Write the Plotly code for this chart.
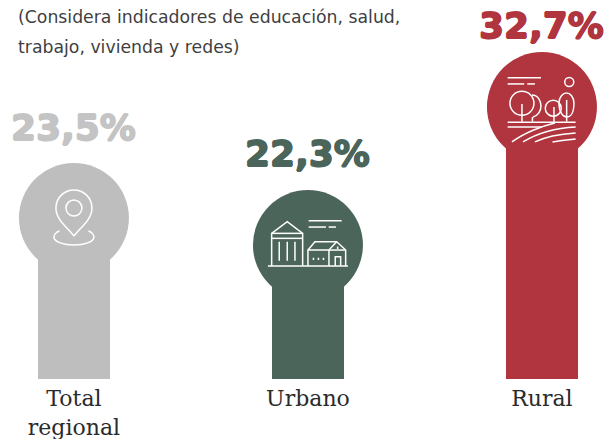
import plotly.graph_objects as go

categories = ["Total<br>regional", "Urbano", "Rural"]
values = [23.5, 22.3, 32.7]
value_labels = ["23,5%", "22,3%", "32,7%"]
# column height as drawn in the picture (to the centre of the head), percent units
drawn_levels = [19.35, 16.1, 32.7]
colors = ["#BEBEBE", "#4C655A", "#B0353E"]
note_lines = ["(Considera indicadores de educación, salud,", "trabajo, vivienda y redes)"]

PX = 8.32  # pixels per unit
label_gaps = [91, 92, 81]


def circ(cx, cy, r, ry=None):
    ry = r if ry is None else ry
    k = 0.5523
    return (f"M{cx-r},{-cy} C{cx-r},{-(cy-k*ry)} {cx-k*r},{-(cy-ry)} {cx},{-(cy-ry)} "
            f"C{cx+k*r},{-(cy-ry)} {cx+r},{-(cy-k*ry)} {cx+r},{-cy} "
            f"C{cx+r},{-(cy+k*ry)} {cx+k*r},{-(cy+ry)} {cx},{-(cy+ry)} "
            f"C{cx-k*r},{-(cy+ry)} {cx-r},{-(cy+k*ry)} {cx-r},{-cy} Z")


def ln(*pts):
    return "M" + " L".join(f"{x},{-y}" for x, y in pts)


def cv(p0, c1, c2, p1):
    return f"M{p0[0]},{-p0[1]} C{c1[0]},{-c1[1]} {c2[0]},{-c2[1]} {p1[0]},{-p1[1]}"


pin = [
    cv((0, 18), (-6, 10), (-18, 2), (-18, -10)),
    cv((-18, -10), (-18, -21), (-9, -28), (0, -28)),
    cv((0, -28), (9, -28), (18, -21), (18, -10)),
    cv((18, -10), (18, 2), (6, 10), (0, 18)),
    circ(0, -10, 8),
    cv((-14.5, 13), (-18, 14), (-20, 17), (-20, 19)),
    cv((-20, 19), (-20, 24), (-10, 27), (0, 27)),
    cv((0, 27), (10, 27), (20, 24), (20, 19)),
    cv((20, 19), (20, 17), (18, 14), (14.5, 13)),
]
city = [
    ln((-40, 21), (40, 21)),
    ln((-36.3, 21), (-36.3, -11.7), (-20.7, -23.3), (-5.3, -11.7), (-5.3, 21)),
    ln((-36.3, -11.7), (-5.3, -11.7)),
    ln((-36.3, -6.7), (-5.3, -6.7)),
    ln((-28.7, -3.3), (-28.7, 15.7)), ln((-20.7, -3.3), (-20.7, 15.7)), ln((-13, -3.3), (-13, 15.7)),
    ln((0, 21), (0, 5), (7, -3.3), (28.7, -3.3), (37.7, 5), (37.7, 21)),
    ln((0, 5), (21, 5), (28.7, -3.3)),
    ln((21, 5), (37.7, 5)),
    ln((27.3, 21), (27.3, 11.7), (32.7, 11.7), (32.7, 21)),
    ln((21, 5), (21, 21)),
    ln((5.5, 12.7), (5.5, 15)), ln((10.5, 12.7), (10.5, 15)), ln((15.5, 12.7), (15.5, 15)),
    ln((29.7, 4), (29.7, 1.5)),
    ln((0.7, -24.3), (33.7, -24.3)),
    ln((0.7, -18), (18, -18)), ln((20.7, -18), (28, -18)),
]
farm = [
    ln((-34.3, -29.3), (-1, -29.3)),
    ln((-34.3, -23), (-17.7, -23)), ln((-14.7, -23), (-7, -23)),
    circ(27.3, -25, 4.5),
    circ(-20, -3.7, 12),
    ln((-20, -3), (-20, 14.7)),
    cv((-10, -12), (-4, -12), (-1, -6), (-1, -1)),
    cv((-1, -1), (-1, 4), (-4, 9), (-9, 10)),
    ln((-9.5, 10), (-9.5, 14.7)),
    circ(11.3, 1.3, 8),
    ln((12, 0), (12, 14.7)),
    cv((17, -4), (17, -10), (21, -14), (24.7, -14)),
    cv((24.7, -14), (28, -14), (32, -10), (32, -4)),
    cv((32, -4), (32, 5), (29, 10), (24.7, 10)),
    cv((24.7, 10), (21, 10), (17, 5), (17, -4)),
    ln((24.7, -7), (24.7, 14.7)),
    ln((-34.3, 15.3), (33.7, 15.3)),
    ln((-34.3, 20), (0, 20)),
    cv((-30, 35), (-18, 26), (0, 19), (13, 16)),
    cv((-19, 35), (-6, 27), (12, 21), (33.7, 20)),
    cv((-7, 35), (3, 30), (18, 27), (33.7, 26)),
    cv((10.5, 35), (16, 34), (25, 33), (33.7, 32)),
]
icons = [pin, city, farm]

fig = go.Figure()
fig.add_trace(go.Bar(x=categories, y=drawn_levels, width=0.3077,
                     marker=dict(color=colors, line_width=0), hoverinfo="skip"))
fig.add_trace(go.Scatter(x=categories, y=drawn_levels, mode="markers",
                         marker=dict(size=110, color=colors, line_width=0),
                         customdata=values, hoverinfo="skip"))

shapes = []
for cat, lvl, parts in zip(categories, drawn_levels, icons):
    for p in parts:
        shapes.append(dict(type="path", path=p, xref="x", yref="y",
                           xsizemode="pixel", ysizemode="pixel",
                           xanchor=categories.index(cat), yanchor=lvl,
                           line=dict(color="white", width=1.5), fillcolor="rgba(0,0,0,0)"))

annotations = []
for cat, lvl, txt, c, gap in zip(categories, drawn_levels, value_labels, colors, label_gaps):
    col = "#C4C4C4" if c == "#BEBEBE" else c
    annotations.append(dict(x=cat, y=lvl, text=txt, yshift=gap, showarrow=False,
                            yanchor="middle", xanchor="center",
                            font=dict(family="DejaVu Sans", size=36, weight="bold", color=col,
                                      shadow=f"0.8px 0 0 {col}, -0.8px 0 0 {col}, 0 0.6px 0 {col}, 0 -0.6px 0 {col}")))
for line, py in zip(note_lines, [17, 47]):
    annotations.append(dict(xref="paper", yref="paper", x=18 / 607, y=(379 - py) / 379,
                            text=line, showarrow=False, xanchor="left", yanchor="middle",
                            xshift=-2,
                            font=dict(family="DejaVu Sans", size=17.3, color="#3F3F3F")))

fig.update_layout(
    width=607, height=439, margin=dict(l=0, r=0, t=0, b=60),
    paper_bgcolor="white", plot_bgcolor="white", showlegend=False,
    xaxis=dict(type="category", categoryorder="array", categoryarray=categories,
               range=[-0.316, 2.278], showgrid=False, zeroline=False, showline=False, ticks="",
               ticklabelstandoff=4,
               tickfont=dict(family="DejaVu Serif", size=22, color="#2B2B2B")),
    yaxis=dict(range=[0, 379 / PX], visible=False, showgrid=False, zeroline=False),
    shapes=shapes, annotations=annotations, bargap=0,
)
fig.write_html("out.html", config={"displayModeBar": False},
               post_script="document.body.style.margin='0';")
